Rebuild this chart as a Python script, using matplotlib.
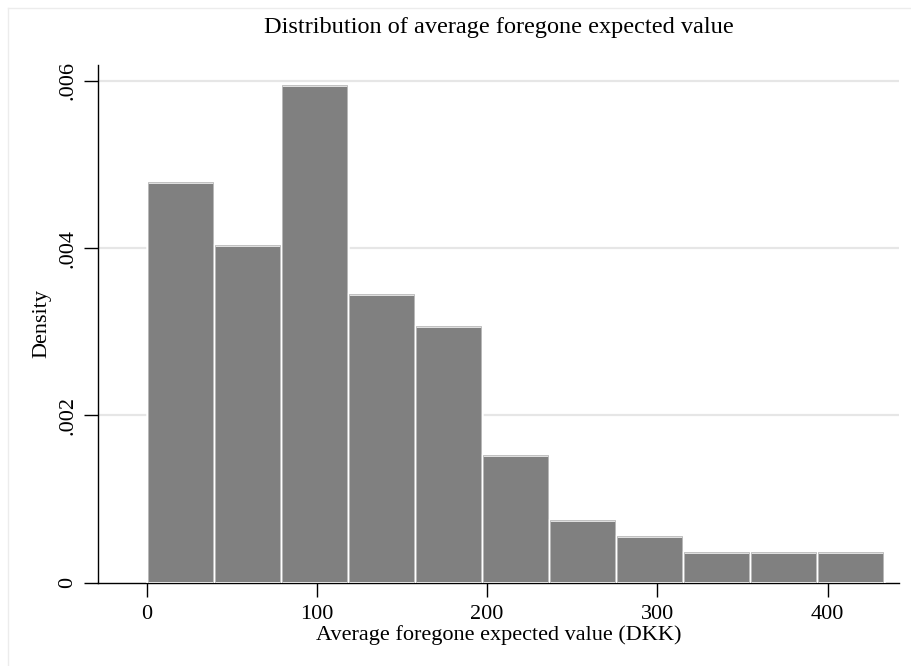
import numpy as np
import matplotlib.pyplot as plt
from matplotlib.lines import Line2D

# histogram (density per bin)
bin_start = 0.0
bin_width = 39.35
densities = [0.004794, 0.004033, 0.005955, 0.003447, 0.003065,
             0.001522, 0.000752, 0.000559, 0.000360, 0.000360, 0.000360]
xticks = [0, 100, 200, 300, 400]
yticks = [0, 0.002, 0.004, 0.006]
yticklabels = ["0", ".002", ".004", ".006"]

plt.rcParams['font.family'] = ['Liberation Serif', 'DejaVu Serif']

fig = plt.figure(figsize=(9.12, 6.66), dpi=100)
ax = fig.add_axes([98/912, 1-582.5/666, (899-98)/912, (582.5-65)/666])

lefts = bin_start + bin_width*np.arange(len(densities))
ax.bar(lefts, densities, width=bin_width, align='edge', color='#808080',
       edgecolor='white', linewidth=1.8, zorder=3)
ax.bar(lefts+0.6, densities, width=bin_width-1.2, align='edge', color='none',
       edgecolor='#a8a8a8', linewidth=0.5, zorder=4)

for y in yticks[1:]:
    ax.axhline(y, color='#e6e6e6', linewidth=1.6, zorder=1)

ax.set_xlim(-28.5, 441.9)
ax.set_ylim(0, 0.00619)
ax.set_xticks(xticks)
ax.set_xticklabels([str(v) for v in xticks])
ax.set_yticks(yticks)
ax.set_yticklabels(yticklabels, rotation=90, va='center')

for s in ['top', 'right']:
    ax.spines[s].set_visible(False)
ax.spines['left'].set_linewidth(1.0)
ax.spines['bottom'].set_linewidth(1.0)
ax.tick_params(axis='both', direction='out', length=10, width=1.0,
               labelsize=16, colors='black')
ax.tick_params(axis='x', pad=6)
ax.tick_params(axis='y', pad=5)

ax.set_xlabel("Average foregone expected value (DKK)", fontsize=16, labelpad=1)
ax.set_ylabel("Density", fontsize=16, labelpad=5)
ax.set_title("Distribution of average foregone expected value", fontsize=17.5, pad=23)

# faint outer frame like the graph region border
fig.add_artist(Line2D([8/912, 8/912], [0, 1-8/666], color='#ececec', linewidth=1.0))
fig.add_artist(Line2D([8/912, 1], [1-8/666, 1-8/666], color='#ececec', linewidth=1.0))

fig.savefig("out.png", dpi=100, facecolor='white')
